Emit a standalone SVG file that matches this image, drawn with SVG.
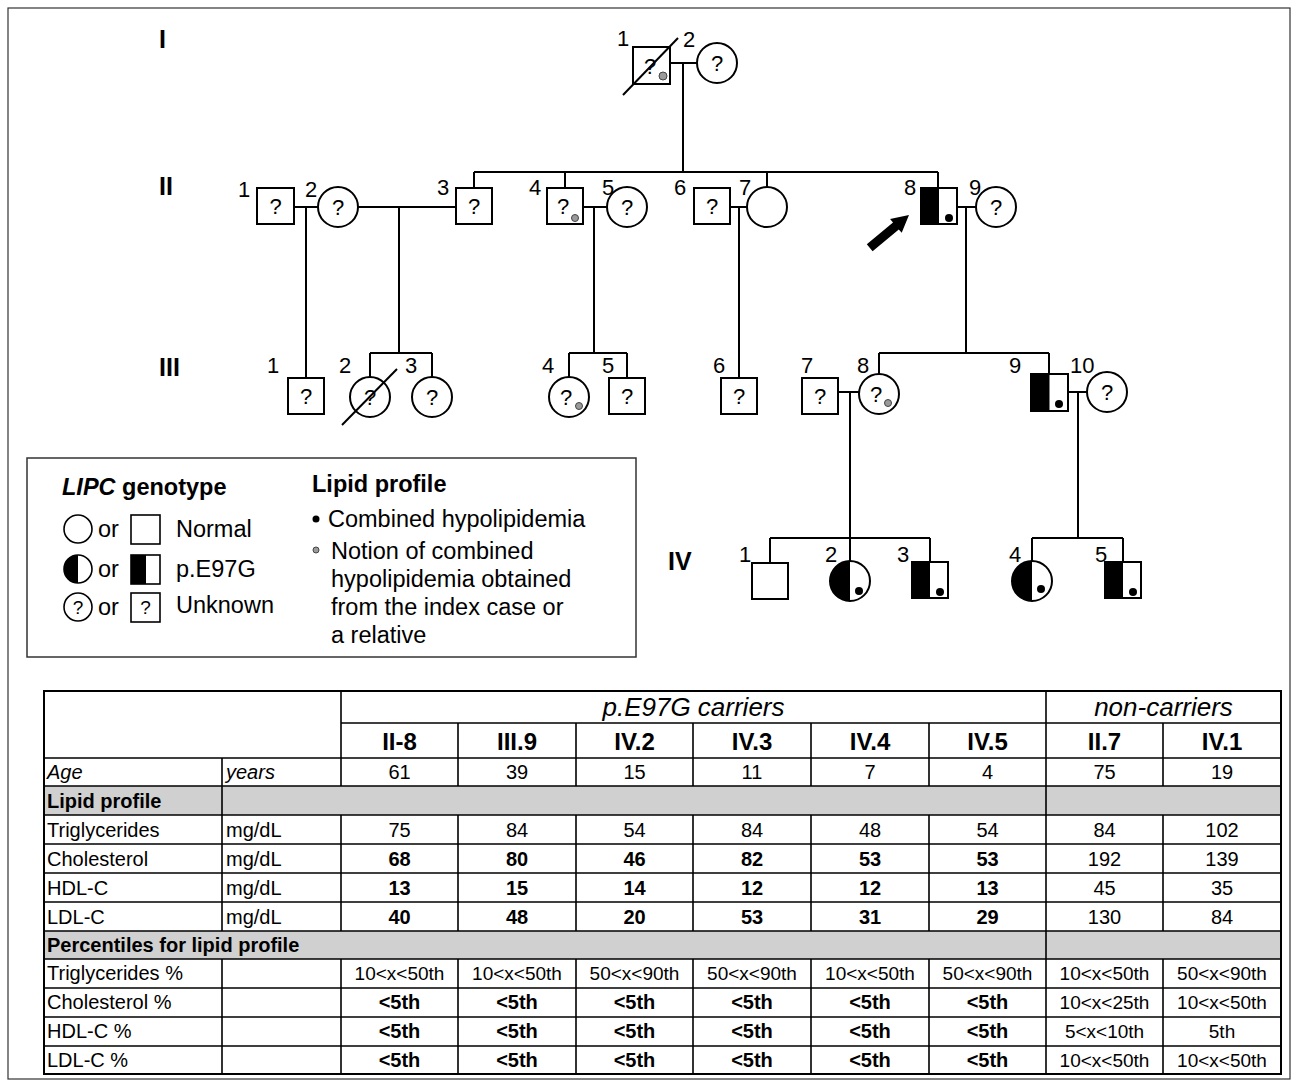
<svg xmlns="http://www.w3.org/2000/svg" width="1298" height="1085" viewBox="0 0 1298 1085">
<style>
text{font-family:"Liberation Sans",Arial,Helvetica,sans-serif;fill:#000}
.ln{stroke:#000;stroke-width:2;fill:none}
.sym{fill:#fff;stroke:#000;stroke-width:2}
.blk{fill:#000;stroke:none}
.num{font-size:22px}
.q{font-size:22px;text-anchor:middle}
.gen{font-size:25px;font-weight:bold}
.gdot{fill:#9a9a9a;stroke:#444;stroke-width:1}
.leg{font-size:23.5px}
.legb{font-size:23.5px;font-weight:bold}
.tl{stroke:#000;stroke-width:1.6;fill:none}
.grey{fill:#d0d0d0}
.t{font-size:20px}
.c{font-size:20px;text-anchor:middle}
.cb{font-size:20px;text-anchor:middle;font-weight:bold}
.cp{font-size:19px;text-anchor:middle}
.th{font-size:26px;font-style:italic;text-anchor:middle}
.hb{font-size:24px;font-weight:bold;text-anchor:middle}
</style>
<rect x="8" y="8" width="1282" height="1071" fill="#fff" stroke="#333" stroke-width="1.2"/>

<!-- generation labels -->
<g id="gen-labels">
<text class="gen" x="159" y="48">I</text>
<text class="gen" x="159" y="195">II</text>
<text class="gen" x="159" y="376">III</text>
<text class="gen" x="668" y="570">IV</text>
</g>

<!-- connectors -->
<g id="connectors" class="ln">
<path d="M670 63H697M683 63V172"/>
<path d="M474 172H938M474 172V188M565 172V188M767 172V187M938 172V188"/>
<path d="M294 207H318M306 207V378"/>
<path d="M358 207H456M399 207V353M370 353H432M370 353V377M432 353V377"/>
<path d="M583 207H607M594 207V353M569 353H627M569 353V377M627 353V378"/>
<path d="M730 207H747M739 207V378"/>
<path d="M957 207H976M966 207V353M879 353H1049M879 353V374M1049 353V374"/>
<path d="M838 392H859M850 392V538M770 538H930M770 538V563M850 538V561M930 538V562"/>
<path d="M1068 392H1087M1078 392V538M1032 538H1123M1032 538V561M1123 538V562"/>
</g>

<!-- Generation I -->
<g id="I-1">
<rect class="sym" x="633" y="47" width="37" height="37"/>
<text class="q" x="650" y="74">?</text>
<circle class="gdot" cx="663" cy="76" r="4"/>
<line class="ln" x1="623" y1="95" x2="678" y2="38"/>
<text class="num" x="617" y="46">1</text>
</g>
<g id="I-2">
<circle class="sym" cx="717" cy="63" r="20"/>
<text class="q" x="717" y="71">?</text>
<text class="num" x="683" y="47">2</text>
</g>

<!-- Generation II -->
<g id="II-1">
<rect class="sym" x="257" y="188" width="37" height="36"/>
<text class="q" x="275.5" y="214">?</text>
<text class="num" x="238" y="197">1</text>
</g>
<g id="II-2">
<circle class="sym" cx="338" cy="207" r="20"/>
<text class="q" x="338" y="215">?</text>
<text class="num" x="305" y="197">2</text>
</g>
<g id="II-3">
<rect class="sym" x="456" y="188" width="36" height="36"/>
<text class="q" x="474" y="214">?</text>
<text class="num" x="437" y="195">3</text>
</g>
<g id="II-4">
<rect class="sym" x="547" y="188" width="36" height="36"/>
<text class="q" x="563" y="214">?</text>
<circle class="gdot" cx="575" cy="218" r="3.5"/>
<text class="num" x="529" y="195">4</text>
</g>
<g id="II-5">
<circle class="sym" cx="627" cy="207" r="20"/>
<text class="q" x="627" y="215">?</text>
<text class="num" x="602" y="195">5</text>
</g>
<g id="II-6">
<rect class="sym" x="694" y="188" width="36" height="36"/>
<text class="q" x="712" y="214">?</text>
<text class="num" x="674" y="195">6</text>
</g>
<g id="II-7">
<circle class="sym" cx="767" cy="207" r="20"/>
<text class="num" x="739" y="195">7</text>
</g>
<g id="II-8">
<rect class="sym" x="921" y="188" width="36" height="36"/>
<rect class="blk" x="921" y="188" width="18" height="36"/>
<circle class="blk" cx="949" cy="218" r="4"/>
<text class="num" x="904" y="195">8</text>
<polygon class="blk" points="872.6,251.2 866.8,244.2 893,222.4 890.1,219 909,215 901.7,232.8 898.8,229.4"/>
</g>
<g id="II-9">
<circle class="sym" cx="996" cy="207" r="20"/>
<text class="q" x="996" y="215">?</text>
<text class="num" x="969" y="195">9</text>
</g>

<!-- Generation III -->
<g id="III-1">
<rect class="sym" x="288" y="378" width="36" height="36"/>
<text class="q" x="306" y="404">?</text>
<text class="num" x="267" y="373">1</text>
</g>
<g id="III-2">
<circle class="sym" cx="370" cy="397" r="20"/>
<text class="q" x="370" y="405">?</text>
<line class="ln" x1="342" y1="425" x2="397" y2="369"/>
<text class="num" x="339" y="373">2</text>
</g>
<g id="III-3">
<circle class="sym" cx="432" cy="397" r="20"/>
<text class="q" x="432" y="405">?</text>
<text class="num" x="405" y="373">3</text>
</g>
<g id="III-4">
<circle class="sym" cx="569" cy="397" r="20"/>
<text class="q" x="566" y="405">?</text>
<circle class="gdot" cx="579" cy="406" r="3.5"/>
<text class="num" x="542" y="373">4</text>
</g>
<g id="III-5">
<rect class="sym" x="609" y="378" width="36" height="36"/>
<text class="q" x="627" y="404">?</text>
<text class="num" x="602" y="373">5</text>
</g>
<g id="III-6">
<rect class="sym" x="721" y="378" width="36" height="36"/>
<text class="q" x="739" y="404">?</text>
<text class="num" x="713" y="373">6</text>
</g>
<g id="III-7">
<rect class="sym" x="802" y="378" width="36" height="36"/>
<text class="q" x="820" y="404">?</text>
<text class="num" x="801" y="373">7</text>
</g>
<g id="III-8">
<circle class="sym" cx="879" cy="394" r="20"/>
<text class="q" x="876" y="402">?</text>
<circle class="gdot" cx="888" cy="403" r="3.5"/>
<text class="num" x="857" y="373">8</text>
</g>
<g id="III-9">
<rect class="sym" x="1031" y="374" width="37" height="37"/>
<rect class="blk" x="1031" y="374" width="18.5" height="37"/>
<circle class="blk" cx="1059" cy="404" r="4"/>
<text class="num" x="1009" y="373">9</text>
</g>
<g id="III-10">
<circle class="sym" cx="1107" cy="392" r="20"/>
<text class="q" x="1107" y="400">?</text>
<text class="num" x="1070" y="373">10</text>
</g>

<!-- Generation IV -->
<g id="IV-1">
<rect class="sym" x="752" y="563" width="36" height="36"/>
<text class="num" x="739" y="562">1</text>
</g>
<g id="IV-2">
<circle class="sym" cx="850" cy="581" r="20"/>
<path class="blk" d="M850 561A20 20 0 0 0 850 601Z"/>
<circle class="blk" cx="859" cy="591" r="4"/>
<text class="num" x="825" y="562">2</text>
</g>
<g id="IV-3">
<rect class="sym" x="912" y="562" width="36" height="36"/>
<rect class="blk" x="912" y="562" width="18" height="36"/>
<circle class="blk" cx="940" cy="592" r="4"/>
<text class="num" x="897" y="562">3</text>
</g>
<g id="IV-4">
<circle class="sym" cx="1032" cy="581" r="20"/>
<path class="blk" d="M1032 561A20 20 0 0 0 1032 601Z"/>
<circle class="blk" cx="1041" cy="589" r="4"/>
<text class="num" x="1009" y="562">4</text>
</g>
<g id="IV-5">
<rect class="sym" x="1105" y="562" width="36" height="36"/>
<rect class="blk" x="1105" y="562" width="18" height="36"/>
<circle class="blk" cx="1133" cy="592" r="4"/>
<text class="num" x="1095" y="562">5</text>
</g>

<!-- Legend -->
<g id="legend">
<rect x="27" y="458" width="609" height="199" fill="#fff" stroke="#333" stroke-width="1.5"/>
<text class="legb" x="62" y="495"><tspan font-style="italic">LIPC</tspan> genotype</text>
<text class="legb" x="312" y="492">Lipid profile</text>
<circle cx="78" cy="529" r="14" fill="#fff" stroke="#000" stroke-width="1.6"/>
<text class="leg" x="98" y="537">or</text>
<rect x="131" y="515" width="29" height="29" fill="#fff" stroke="#000" stroke-width="1.6"/>
<text class="leg" x="176" y="537">Normal</text>
<circle cx="78" cy="569" r="14" fill="#fff" stroke="#000" stroke-width="1.6"/>
<path class="blk" d="M78 555A14 14 0 0 0 78 583Z"/>
<text class="leg" x="98" y="577">or</text>
<rect x="131" y="555" width="29" height="29" fill="#fff" stroke="#000" stroke-width="1.6"/>
<rect class="blk" x="131" y="555" width="15" height="29"/>
<text class="leg" x="176" y="577">p.E97G</text>
<circle cx="78" cy="607" r="14" fill="#fff" stroke="#000" stroke-width="1.6"/>
<text x="78" y="614" font-size="19" text-anchor="middle">?</text>
<text class="leg" x="98" y="615">or</text>
<rect x="131" y="593" width="29" height="29" fill="#fff" stroke="#000" stroke-width="1.6"/>
<text x="145.5" y="614" font-size="19" text-anchor="middle">?</text>
<text class="leg" x="176" y="613">Unknown</text>
<circle class="blk" cx="316" cy="519" r="3.5"/>
<text class="leg" x="328" y="527">Combined hypolipidemia</text>
<circle class="gdot" cx="316" cy="550" r="3"/>
<text class="leg" x="331" y="559">Notion of combined</text>
<text class="leg" x="331" y="587">hypolipidemia obtained</text>
<text class="leg" x="331" y="615">from the index case or</text>
<text class="leg" x="331" y="643">a relative</text>
</g>

<!-- Table -->
<g id="table">
<rect class="grey" x="44" y="786" width="1237" height="29"/>
<rect class="grey" x="44" y="931" width="1237" height="28"/>
<rect x="44" y="691" width="1237" height="383" fill="none" stroke="#000" stroke-width="2"/>
<path class="tl" d="M341 723H1281M44 758H1281M44 786H1281M44 815H1281M44 844H1281M44 873H1281M44 902H1281M44 931H1281M44 959H1281M44 988H1281M44 1017H1281M44 1046H1281"/>
<path class="tl" d="M222 758V931M222 959V1074M341 691V786M341 815V931M341 959V1074M1046 691V1074"/>
<path class="tl" d="M458 723V786M576 723V786M693 723V786M811 723V786M929 723V786M1163 723V786M458 815V931M576 815V931M693 815V931M811 815V931M929 815V931M1163 815V931M458 959V1074M576 959V1074M693 959V1074M811 959V1074M929 959V1074M1163 959V1074"/>
<text class="th" x="693.5" y="716">p.E97G carriers</text>
<text class="th" x="1163.5" y="716">non-carriers</text>
<text class="hb" x="399.5" y="750">II-8</text>
<text class="hb" x="517" y="750">III.9</text>
<text class="hb" x="634.5" y="750">IV.2</text>
<text class="hb" x="752" y="750">IV.3</text>
<text class="hb" x="870" y="750">IV.4</text>
<text class="hb" x="987.5" y="750">IV.5</text>
<text class="hb" x="1104.5" y="750">II.7</text>
<text class="hb" x="1222" y="750">IV.1</text>

<text class="t" x="47" y="779" font-style="italic">Age</text>
<text class="t" x="226" y="779" font-style="italic">years</text>
<text class="c" x="399.5" y="779">61</text><text class="c" x="517" y="779">39</text><text class="c" x="634.5" y="779">15</text><text class="c" x="752" y="779">11</text><text class="c" x="870" y="779">7</text><text class="c" x="987.5" y="779">4</text><text class="c" x="1104.5" y="779">75</text><text class="c" x="1222" y="779">19</text>

<text class="t" x="47" y="808" font-weight="bold">Lipid profile</text>

<text class="t" x="47" y="837">Triglycerides</text><text class="t" x="226" y="837">mg/dL</text>
<text class="c" x="399.5" y="837">75</text><text class="c" x="517" y="837">84</text><text class="c" x="634.5" y="837">54</text><text class="c" x="752" y="837">84</text><text class="c" x="870" y="837">48</text><text class="c" x="987.5" y="837">54</text><text class="c" x="1104.5" y="837">84</text><text class="c" x="1222" y="837">102</text>

<text class="t" x="47" y="866">Cholesterol</text><text class="t" x="226" y="866">mg/dL</text>
<text class="cb" x="399.5" y="866">68</text><text class="cb" x="517" y="866">80</text><text class="cb" x="634.5" y="866">46</text><text class="cb" x="752" y="866">82</text><text class="cb" x="870" y="866">53</text><text class="cb" x="987.5" y="866">53</text><text class="c" x="1104.5" y="866">192</text><text class="c" x="1222" y="866">139</text>

<text class="t" x="47" y="895">HDL-C</text><text class="t" x="226" y="895">mg/dL</text>
<text class="cb" x="399.5" y="895">13</text><text class="cb" x="517" y="895">15</text><text class="cb" x="634.5" y="895">14</text><text class="cb" x="752" y="895">12</text><text class="cb" x="870" y="895">12</text><text class="cb" x="987.5" y="895">13</text><text class="c" x="1104.5" y="895">45</text><text class="c" x="1222" y="895">35</text>

<text class="t" x="47" y="924">LDL-C</text><text class="t" x="226" y="924">mg/dL</text>
<text class="cb" x="399.5" y="924">40</text><text class="cb" x="517" y="924">48</text><text class="cb" x="634.5" y="924">20</text><text class="cb" x="752" y="924">53</text><text class="cb" x="870" y="924">31</text><text class="cb" x="987.5" y="924">29</text><text class="c" x="1104.5" y="924">130</text><text class="c" x="1222" y="924">84</text>

<text class="t" x="47" y="952" font-weight="bold">Percentiles for lipid profile</text>

<text class="t" x="47" y="980">Triglycerides %</text>
<text class="cp" x="399.5" y="980">10&lt;x&lt;50th</text><text class="cp" x="517" y="980">10&lt;x&lt;50th</text><text class="cp" x="634.5" y="980">50&lt;x&lt;90th</text><text class="cp" x="752" y="980">50&lt;x&lt;90th</text><text class="cp" x="870" y="980">10&lt;x&lt;50th</text><text class="cp" x="987.5" y="980">50&lt;x&lt;90th</text><text class="cp" x="1104.5" y="980">10&lt;x&lt;50th</text><text class="cp" x="1222" y="980">50&lt;x&lt;90th</text>

<text class="t" x="47" y="1009">Cholesterol %</text>
<text class="cb" x="399.5" y="1009">&lt;5th</text><text class="cb" x="517" y="1009">&lt;5th</text><text class="cb" x="634.5" y="1009">&lt;5th</text><text class="cb" x="752" y="1009">&lt;5th</text><text class="cb" x="870" y="1009">&lt;5th</text><text class="cb" x="987.5" y="1009">&lt;5th</text><text class="cp" x="1104.5" y="1009">10&lt;x&lt;25th</text><text class="cp" x="1222" y="1009">10&lt;x&lt;50th</text>

<text class="t" x="47" y="1038">HDL-C %</text>
<text class="cb" x="399.5" y="1038">&lt;5th</text><text class="cb" x="517" y="1038">&lt;5th</text><text class="cb" x="634.5" y="1038">&lt;5th</text><text class="cb" x="752" y="1038">&lt;5th</text><text class="cb" x="870" y="1038">&lt;5th</text><text class="cb" x="987.5" y="1038">&lt;5th</text><text class="cp" x="1104.5" y="1038">5&lt;x&lt;10th</text><text class="cp" x="1222" y="1038">5th</text>

<text class="t" x="47" y="1067">LDL-C %</text>
<text class="cb" x="399.5" y="1067">&lt;5th</text><text class="cb" x="517" y="1067">&lt;5th</text><text class="cb" x="634.5" y="1067">&lt;5th</text><text class="cb" x="752" y="1067">&lt;5th</text><text class="cb" x="870" y="1067">&lt;5th</text><text class="cb" x="987.5" y="1067">&lt;5th</text><text class="cp" x="1104.5" y="1067">10&lt;x&lt;50th</text><text class="cp" x="1222" y="1067">10&lt;x&lt;50th</text>
</g>
</svg>
